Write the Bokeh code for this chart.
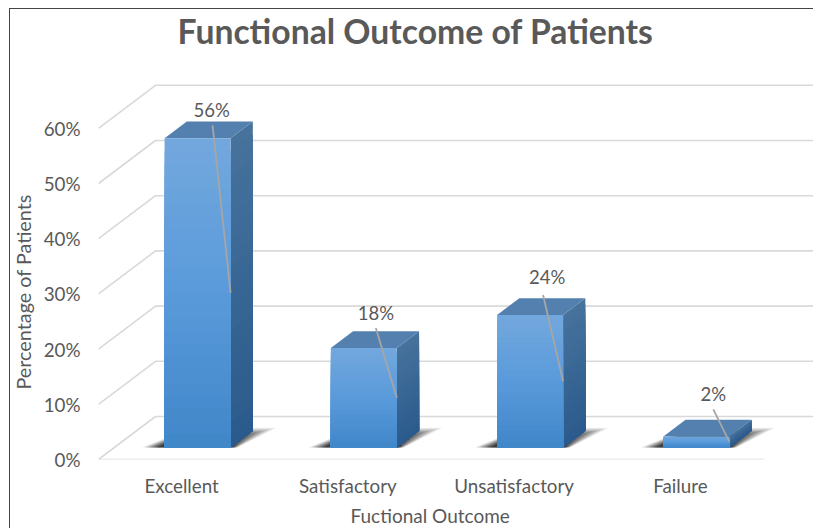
from bokeh.plotting import figure
from bokeh.embed import file_html
from bokeh.resources import INLINE
from bokeh.models import Range1d, FixedTicker, Title
from bokeh.core.properties import value

categories = ["Excellent", "Satisfactory", "Unsatisfactory", "Failure"]
percent = [56, 18, 24, 2]
y_ticks = [0, 10, 20, 30, 40, 50, 60]
y_labels = ["0%", "10%", "20%", "30%", "40%", "50%", "60%"]
chart_title = "Functional Outcome of Patients"
x_title = "Fuctional Outcome"
y_title = "Percentage of Patients"

# scale factors between data units and pixels
CAT_PX, PCT_PX = 166.25, 5.52
FRAME_W, FRAME_H = 715, 384
DEPTH_X, DEPTH_Y = 57 / CAT_PX, 43 / PCT_PX
BAR_W = 66 / CAT_PX
D_FRONT, D_BACK = 0.28, 0.67
X_END = FRAME_W / CAT_PX
Y_END = FRAME_H / PCT_PX
FONT = "Lato"
TXT = "#595959"

# manually placed label offsets (px) from the bar's front right top corner
label_dx = [-19, -21, -16, -16]
label_dy = [28, 35, 38, 42]
lead_dx = [-18, -21, -20, -16]
lead_dy = [13, 20, 20, 27]


def pr(x, y, d):
    return x + d * DEPTH_X, y + d * DEPTH_Y


def mix(a, b, t):
    return "#%02x%02x%02x" % tuple(round(a[i] + (b[i] - a[i]) * t) for i in range(3))


p = figure(width=813, height=528, x_range=Range1d(0, X_END), y_range=Range1d(0, Y_END), title=None,
           output_backend="svg", toolbar_location=None, min_border_left=98, min_border_right=0,
           min_border_top=75, min_border_bottom=69, background_fill_color=None,
           border_fill_color=None, outline_line_color=None)
p.styles = {"background": "linear-gradient(#444,#444) 9px 8px/100% 1px no-repeat, "
                          "linear-gradient(#444,#444) 9px 8px/1px 100% no-repeat, white"}
p.grid.visible = False

# blank title as a spacer that lifts the chart title away from the frame
p.add_layout(Title(text="\u00a0", text_font=FONT, text_font_size="19px", standoff=0), "above")
p.add_layout(Title(text=chart_title, align="left", offset=79, text_font=FONT, text_font_size="33.7px",
                   text_font_style="bold", text_color=TXT, standoff=0), "above")

ya = p.yaxis[0]
ya.ticker = FixedTicker(ticks=y_ticks)
ya.major_label_overrides = dict(zip(y_ticks, y_labels))
xa = p.xaxis[0]
xa.ticker = FixedTicker(ticks=[i + 0.5 for i in range(len(categories))])
xa.major_label_overrides = {i + 0.5: c for i, c in enumerate(categories)}
for a in (xa, ya):
    a.axis_line_color = None
    a.major_tick_line_color = None
    a.minor_tick_line_color = None
    a.major_tick_out = 0
    a.major_tick_in = 0
    a.major_label_text_font = FONT
    a.major_label_text_font_size = "18.8px"
    a.major_label_text_color = TXT
ya.major_label_standoff = 18
xa.major_label_standoff = 14

p.add_layout(Title(text=x_title, align="left", offset=252, text_font=FONT, text_font_size="19px",
                   text_font_style="normal", text_color=TXT, standoff=4), "below")
p.add_layout(Title(text=y_title, align="left", offset=70, text_font=FONT, text_font_size="19.8px",
                   text_font_style="normal", text_color=TXT, standoff=12), "left")

# gridlines: wall + side wall, floor
for v in y_ticks:
    xs0, ys0 = pr(0, v, 0)
    xs1, ys1 = pr(0, v, 1)
    p.line([xs0, xs1, X_END], [ys0, ys1, ys1], line_color="#d9d9d9", line_width=1.6)
fx, fy = pr(len(categories), 0, 0)
p.line([0, fx], [0, fy], line_color="#d9d9d9", line_width=1.6)

for i, v in enumerate(percent):
    xl = i + 0.5 - BAR_W / 2
    xr = i + 0.5 + BAR_W / 2
    # floor shadow, nested translucent layers
    n = 14
    for k in range(n):
        t = k / (n - 1)
        wl = (23 - 17 * t) / CAT_PX
        wr = (38 - 26 * t) / CAT_PX
        d_far = D_FRONT + 0.46 * (1 - 0.45 * t)
        a = pr(xl - wl, 0, D_FRONT)
        b = pr(xr + (7 - 5 * t) / CAT_PX, 0, D_FRONT)
        c = pr(xr + wr - 18 / CAT_PX, 0, d_far)
        e = pr(xl, 0, d_far)
        p.patch([a[0], b[0], c[0], e[0]], [a[1], b[1], c[1], e[1]], fill_color="black",
                fill_alpha=0.05 + 0.09 * t, line_color=None)
    # side face, gradient drawn as nested strips
    m = 24
    for k in range(m):
        t = k / m
        top = v * (1 - t)
        a, b = pr(xr, 0, D_FRONT), pr(xr, 0, D_BACK)
        p.patch([a[0], b[0], b[0], a[0]], [a[1], b[1], b[1] + top, a[1] + top],
                fill_color=mix((0x46, 0x72, 0x9c), (0x2a, 0x5a, 0x8c), t), line_color=None)
    # top face
    q = [pr(xl, v, D_FRONT), pr(xr, v, D_FRONT), pr(xr, v, D_BACK), pr(xl, v, D_BACK)]
    p.patch([c[0] for c in q], [c[1] for c in q], fill_color="#5380ae", line_color=None)
    # front face, gradient
    for k in range(m):
        t = k / m
        top = v * (1 - t)
        col = mix((0x72, 0xa7, 0xdd), (0x5b, 0x9b, 0xdb), t / 0.45) if t < 0.45 else \
            mix((0x5b, 0x9b, 0xdb), (0x3f, 0x86, 0xc8), (t - 0.45) / 0.55)
        a, b = pr(xl, 0, D_FRONT), pr(xr, 0, D_FRONT)
        p.quad(left=a[0], right=b[0], bottom=a[1], top=a[1] + top, fill_color=col, line_color=None)
    # leader line from the label to mid-height of the bar's right edge
    tr = pr(xr, v, D_FRONT)
    mid = pr(xr, v / 2, D_FRONT)
    p.line([tr[0] + lead_dx[i] / CAT_PX, mid[0]], [tr[1] + lead_dy[i] / PCT_PX, mid[1]],
           line_color="#a6a6a6", line_width=1.8)
    p.text([tr[0] + label_dx[i] / CAT_PX], [tr[1] + label_dy[i] / PCT_PX], text=[f"{v}%"],
           text_font=value(FONT), text_font_size="18.5px", text_color=TXT,
           text_align="center", text_baseline="middle")

open("out.html", "w").write(file_html(p, INLINE))
